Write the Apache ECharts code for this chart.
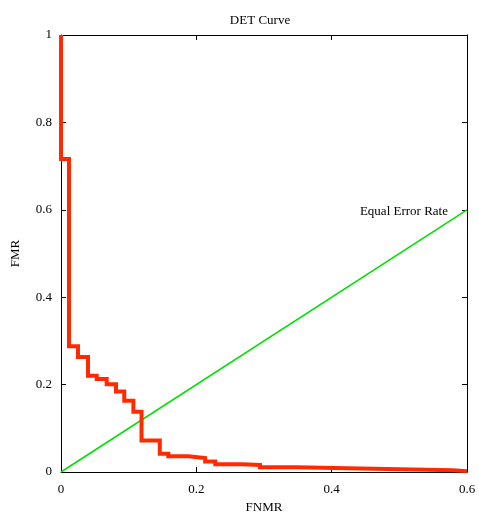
<!DOCTYPE html>
<html>
<head>
<meta charset="utf-8">
<script src="https://cdn.jsdelivr.net/npm/echarts@6/dist/echarts.min.js"></script>
<style>
  html, body { margin: 0; padding: 0; background: #fff; }
  #container { width: 479px; height: 515px; }
</style>
</head>
<body>
<div id="container"></div>
<script>
// DET curve step points (FNMR, FMR)
let fnmr = [0, 0, 0.0118, 0.0251, 0.0399, 0.0528, 0.0675, 0.0813, 0.0935, 0.107, 0.119, 0.146, 0.1586, 0.188, 0.213, 0.228, 0.267, 0.294, 0.348, 0.481, 0.579, 0.6];
let fmr = [1, 0.716, 0.288, 0.263, 0.22, 0.213, 0.201, 0.184, 0.163, 0.138, 0.072, 0.042, 0.036, 0.032, 0.024, 0.018, 0.016, 0.011, 0.007, 0.004, 0.002, 0.002];

// equal error rate line
let eer_x = [0, 0.6];
let eer_y = [0, 0.6];

let x_ticks = [0, 0.2, 0.4, 0.6];
let y_ticks = [0, 0.2, 0.4, 0.6, 0.8, 1];

var dom = document.getElementById("container");
var myChart = echarts.init(dom);
var font = "Liberation Serif";
var fsize = 13;

function fmt(v) {
    return String(Math.round(v * 10) / 10);
}

var axisBase = {
    type: 'value',
    axisLine: { show: true, onZero: false, lineStyle: { color: '#000', width: 1 } },
    axisTick: { show: true, inside: true, length: 5, lineStyle: { color: '#000' } },
    splitLine: { show: false },
    axisLabel: { show: false }
};

var option = {
    animation: false,
    textStyle: { fontFamily: font },
    title: {
        text: 'DET Curve',
        left: 255,
        top: 9,
        textAlign: 'center',
        textStyle: { fontFamily: font, fontSize: fsize, fontWeight: 'normal', color: '#000' }
    },
    grid: { left: 61, right: 12, top: 35, bottom: 43, outerBoundsMode: 'none', containLabel: false },
    xAxis: [
        Object.assign({}, axisBase, {
            min: x_ticks[0], max: x_ticks[x_ticks.length - 1], interval: 0.2,
            position: 'bottom',
            name: 'FNMR', nameLocation: 'middle', nameGap: 29,
            nameTextStyle: { fontFamily: font, fontSize: fsize, color: '#000' },
            axisLabel: { show: true, margin: 11, fontFamily: font, fontSize: fsize, color: '#000', formatter: fmt }
        }),
        Object.assign({}, axisBase, {
            min: x_ticks[0], max: x_ticks[x_ticks.length - 1], interval: 0.2,
            position: 'top'
        })
    ],
    yAxis: [
        Object.assign({}, axisBase, {
            min: y_ticks[0], max: y_ticks[y_ticks.length - 1], interval: 0.2,
            position: 'left',
            name: 'FMR', nameLocation: 'middle', nameGap: 39,
            nameTextStyle: { fontFamily: font, fontSize: fsize, color: '#000' },
            axisLabel: { show: true, margin: 9, fontFamily: font, fontSize: fsize, color: '#000', formatter: fmt }
        }),
        Object.assign({}, axisBase, {
            min: y_ticks[0], max: y_ticks[y_ticks.length - 1], interval: 0.2,
            position: 'right'
        })
    ],
    series: [
        {
            type: 'line',
            data: eer_x.map((x, i) => [x, eer_y[i]]),
            symbol: 'none',
            lineStyle: { color: '#00e000', width: 1.5 },
            endLabel: {
                show: true,
                formatter: 'Equal Error Rate',
                align: 'right',
                offset: [-27, 2],
                fontFamily: font, fontSize: fsize, color: '#000'
            },
            z: 2
        },
        {
            type: 'line',
            step: 'end',
            data: fnmr.map((x, i) => [x, fmr[i]]),
            showSymbol: false,
            symbol: 'none',
            lineStyle: { color: '#ff2a00', width: 4, join: 'miter', cap: 'butt' },
            z: 3
        }
    ]
};

myChart.setOption(option);
</script>
</body>
</html>
